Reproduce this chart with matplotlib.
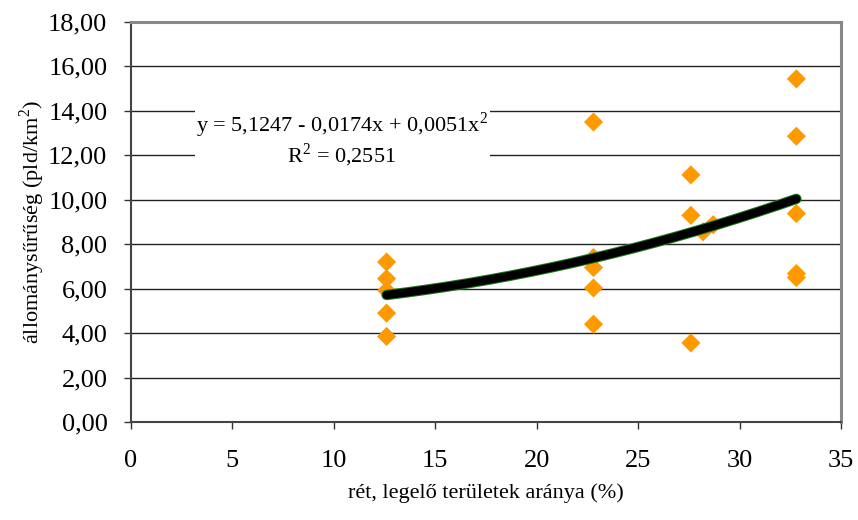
import matplotlib
matplotlib.use("Agg")
import matplotlib.pyplot as plt
import numpy as np
from matplotlib.ticker import FuncFormatter
from matplotlib.patches import Rectangle

# Data
x_vals = [12.6, 12.6, 12.6, 12.6, 12.6,
          22.8, 22.8, 22.8, 22.8, 22.8,
          27.6, 27.6, 27.6, 28.2, 28.7,
          32.8, 32.8, 32.8, 32.8, 32.8]
y_vals = [7.20, 6.45, 5.92, 4.90, 3.85,
          13.50, 7.40, 6.95, 6.03, 4.40,
          11.12, 9.30, 3.56, 8.56, 8.88,
          15.44, 12.86, 9.38, 6.68, 6.50]
trend_coef = [5.1247, -0.0174, 0.0051]  # a + b x + c x^2
eq_text = "y = 5,1247 - 0,0174x + 0,0051x$^2$"
r2_text = "R$^2$ = 0,2551"
xticks = [0, 5, 10, 15, 20, 25, 30, 35]
yticks = [0, 2, 4, 6, 8, 10, 12, 14, 16, 18]
xlabel = "rét, legelő területek aránya (%)"
ylabel = "állománysűrűség (pld/km$^2$)"

plt.rcParams['font.family'] = ['Liberation Serif', 'DejaVu Serif']
plt.rcParams['mathtext.fontset'] = 'custom'
plt.rcParams['mathtext.rm'] = 'Liberation Serif'

fig = plt.figure(figsize=(8.58, 5.2), dpi=100)
ax = fig.add_axes([131/858, 1-422/520, (841-131)/858, 400/520])

ax.set_xlim(0, 35)
ax.set_ylim(0, 18)
ax.set_xticks(xticks)
ax.set_yticks(yticks)
ax.yaxis.set_major_formatter(FuncFormatter(lambda v, p: f"{v:.2f}".replace('.', ',')))
ax.tick_params(axis='both', direction='out', length=5, width=1, color='#333333', labelsize=19)
ax.tick_params(axis='x', pad=15)
ax.tick_params(axis='y', pad=12)

for y in yticks[1:]:
    ax.axhline(y, color='#222222', lw=1.0, zorder=1)

for s in ['top', 'right']:
    ax.spines[s].set_color('#888888')
    ax.spines[s].set_linewidth(2.2)
for s in ['left', 'bottom']:
    ax.spines[s].set_color('#444444')
    ax.spines[s].set_linewidth(1.5)

ax.scatter(x_vals, y_vals, marker='D', s=95, color='#FF9900', edgecolors='none', zorder=3)

xs = np.linspace(min(x_vals), max(x_vals), 200)
ys = trend_coef[0] + trend_coef[1]*xs + trend_coef[2]*xs**2
ax.plot(xs, ys, color='#1a7a1a', lw=7.5, solid_capstyle='round', zorder=4)
ax.plot(xs, ys, color='black', lw=6, solid_capstyle='round', zorder=5)

# white label box for the trendline equation
ax.add_patch(Rectangle((3.16, 11.4), 14.55, 2.9, facecolor='white', edgecolor='none', zorder=6))
ax.text(10.4, 13.37, eq_text, fontsize=16, ha='center', va='center', zorder=7)
ax.text(10.35, 12.0, r2_text, fontsize=16, ha='center', va='center', zorder=7)

ax.set_xlabel(xlabel, fontsize=16, labelpad=8)
ax.set_ylabel(ylabel, fontsize=16, labelpad=1)

fig.savefig("out.png", dpi=100)
